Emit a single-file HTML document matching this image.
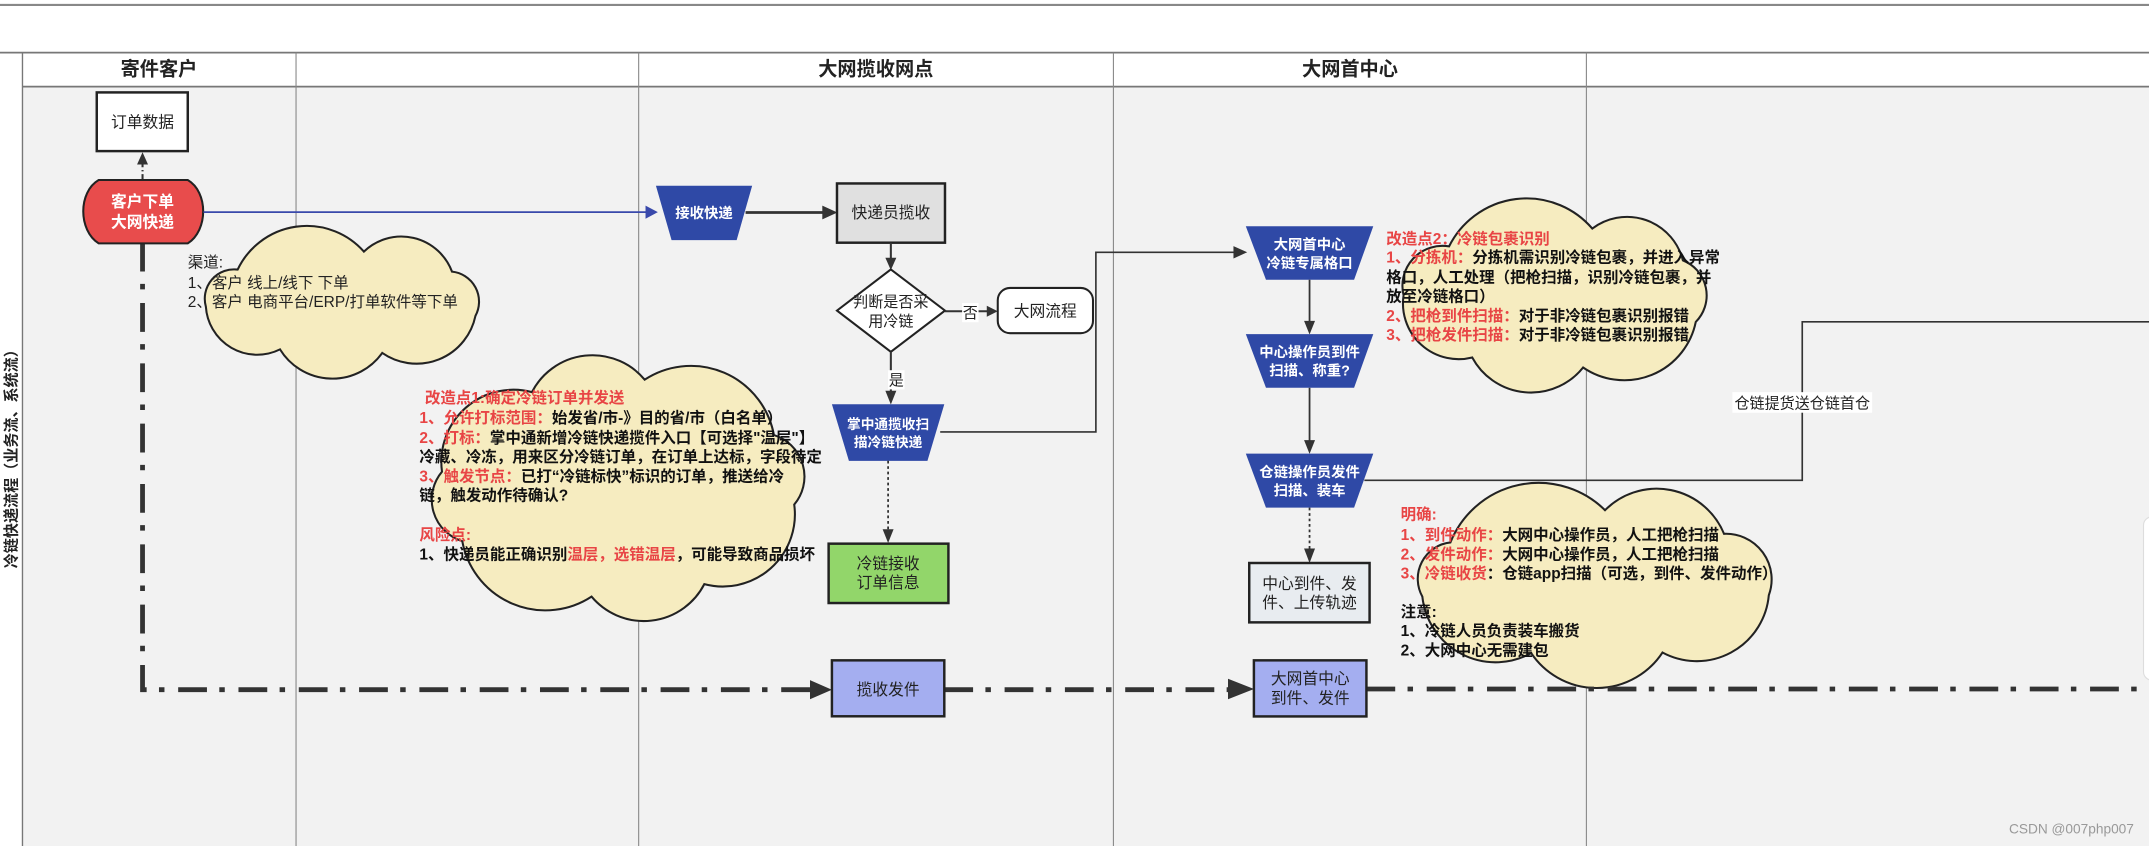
<!DOCTYPE html>
<html><head><meta charset="utf-8">
<style>
html,body{margin:0;padding:0;background:#fff;}
svg{display:block;}
text{font-family:"Liberation Sans","Noto Sans CJK SC",sans-serif;}
.h{font-size:14px;font-weight:bold;fill:#222;}
.w{font-size:10.5px;font-weight:bold;fill:#fff;}
.n{font-size:11.5px;fill:#222;}
.c{font-size:11.3px;font-weight:bold;fill:#111;}
.r{fill:#e84545;}
</style></head><body>
<svg width="2149" height="846" viewBox="0 0 1568 617" preserveAspectRatio="none" xmlns="http://www.w3.org/2000/svg">
<rect x="0" y="0" width="1568" height="617" fill="#fff"/>
<line x1="0" y1="3.6" x2="1568" y2="3.6" stroke="#888" stroke-width="1.5"/>
<rect x="16.4" y="63" width="1552" height="554" fill="#f2f2f2"/>
<line x1="0" y1="38.4" x2="1568" y2="38.4" stroke="#777" stroke-width="1.3"/>
<line x1="16.4" y1="63.2" x2="1568" y2="63.2" stroke="#777" stroke-width="1.3"/>
<line x1="16.4" y1="38.4" x2="16.4" y2="617" stroke="#777" stroke-width="1"/>
<line x1="216" y1="38.4" x2="216" y2="617" stroke="#888" stroke-width="0.8"/>
<line x1="466" y1="38.4" x2="466" y2="617" stroke="#888" stroke-width="0.8"/>
<line x1="812.4" y1="38.4" x2="812.4" y2="617" stroke="#888" stroke-width="0.8"/>
<line x1="1157.5" y1="38.4" x2="1157.5" y2="617" stroke="#888" stroke-width="0.8"/>
<text class="h" x="116" y="55" text-anchor="middle">寄件客户</text>
<text class="h" x="639" y="55" text-anchor="middle">大网揽收网点</text>
<text class="h" x="985" y="55" text-anchor="middle">大网首中心</text>
<text x="12" y="332" transform="rotate(-90 12 332)" text-anchor="middle" style="font-size:11px;font-weight:bold;fill:#222">冷链快递流程（业务流、系统流）</text>

<path id="cl1" fill="#f6ecc0" stroke="#222" stroke-width="1.5"/>
<path id="cl2" fill="#f6ecc0" stroke="#222" stroke-width="1.5"/>
<path id="cl3" fill="#f6ecc0" stroke="#222" stroke-width="1.5"/>
<path id="cl4" fill="#f6ecc0" stroke="#222" stroke-width="1.5"/>

<path d="M104,177 L104,503 L592,503" fill="none" stroke="#333" stroke-width="3.5" stroke-dasharray="21 9 4 10"/>
<polygon points="591,496 607,503 591,510" fill="#333"/>
<path d="M689,503 L897,503" fill="none" stroke="#333" stroke-width="3.5" stroke-dasharray="21 9 4 10"/>
<polygon points="896,495 915,502.5 896,510" fill="#333"/>
<path d="M997,502.5 L1568,502.5" fill="none" stroke="#333" stroke-width="3.5" stroke-dasharray="21 9 4 10"/>

<line x1="104" y1="131" x2="104" y2="118" stroke="#333" stroke-width="1.5" stroke-dasharray="4 2 1 2"/>
<polygon points="100,120 104,111 108,120" fill="#333"/>
<rect x="70.6" y="67.4" width="66.4" height="42.8" fill="#fff" stroke="#222" stroke-width="1.8"/>
<text class="n" x="104" y="93" text-anchor="middle">订单数据</text>
<path d="M72,131.3 L137,131.3 C152,140 152,168 137,177.5 L72,177.5 C57,168 57,140 72,131.3 Z" fill="#e84c4c" stroke="#222" stroke-width="1.5"/>
<text class="w" x="104" y="151" text-anchor="middle" style="font-size:11.5px">客户下单</text>
<text class="w" x="104" y="166" text-anchor="middle" style="font-size:11.5px">大网快递</text>
<line x1="148.5" y1="154.7" x2="472" y2="154.7" stroke="#3949ab" stroke-width="1.3"/>
<polygon points="471,150 480,154.7 471,159.5" fill="#3949ab"/>

<polygon points="478.6,135.5 548.8,135.5 537.5,175.1 490,175.1" fill="#2f49a6"/>
<text class="w" x="513.7" y="159" text-anchor="middle">接收快递</text>
<line x1="544" y1="155" x2="602" y2="155" stroke="#333" stroke-width="2"/>
<polygon points="600,150 611,155 600,160" fill="#333"/>
<rect x="610.7" y="133.8" width="78.8" height="43.2" fill="#e0e0e0" stroke="#222" stroke-width="1.8"/>
<text class="n" x="650" y="159" text-anchor="middle">快递员揽收</text>
<line x1="650" y1="177" x2="650" y2="190" stroke="#333" stroke-width="1.5"/>
<polygon points="646,188 650,197 654,188" fill="#333"/>
<polygon points="650,196.5 689.5,226.5 650,256.6 610.7,226.5" fill="#fff" stroke="#222" stroke-width="1.5"/>
<text class="n" x="650" y="224" text-anchor="middle" style="font-size:11px">判断是否采</text>
<text class="n" x="650" y="238" text-anchor="middle" style="font-size:11px">用冷链</text>
<line x1="689.5" y1="227" x2="722" y2="227" stroke="#333" stroke-width="1.5"/>
<polygon points="720,223 728,227 720,231" fill="#333"/>
<rect x="702" y="221" width="12" height="14" fill="#fff"/>
<text class="n" x="708" y="232" text-anchor="middle" style="font-size:11px">否</text>
<rect x="728" y="210" width="69.5" height="33" rx="9" fill="#fff" stroke="#222" stroke-width="1.5"/>
<text class="n" x="762.7" y="231" text-anchor="middle">大网流程</text>
<line x1="650" y1="256.6" x2="650" y2="287" stroke="#333" stroke-width="1.5"/>
<polygon points="646,285 650,295 654,285" fill="#333"/>
<rect x="648" y="270" width="12" height="14" fill="#fff"/>
<text class="n" x="654" y="281" text-anchor="middle" style="font-size:11px">是</text>

<polygon points="607,294.8 689,294.8 676.7,336.1 619.4,336.1" fill="#2f49a6"/>
<text class="w" x="648" y="313" text-anchor="middle" style="font-size:10px">掌中通揽收扫</text>
<text class="w" x="648" y="326" text-anchor="middle" style="font-size:10px">描冷链快递</text>
<polyline points="686,315 799.6,315 799.6,184 903,184" fill="none" stroke="#333" stroke-width="1.2"/>
<polygon points="900,179.5 910,184 900,188.5" fill="#333"/>
<line x1="648" y1="336" x2="648" y2="388" stroke="#333" stroke-width="1.3" stroke-dasharray="2 2"/>
<polygon points="644,386 648,396 652,386" fill="#333"/>
<rect x="604.6" y="396.5" width="87.4" height="43.3" fill="#92d66a" stroke="#222" stroke-width="1.8"/>
<text class="n" x="648" y="415" text-anchor="middle">冷链接收</text>
<text class="n" x="648" y="429" text-anchor="middle">订单信息</text>
<rect x="607" y="481.6" width="82" height="40.8" fill="#a4aef0" stroke="#222" stroke-width="1.8"/>
<text class="n" x="648" y="507" text-anchor="middle">揽收发件</text>

<polygon points="909,165 1002,165 988,204 923.7,204" fill="#2f49a6"/>
<text class="w" x="955.5" y="182" text-anchor="middle">大网首中心</text>
<text class="w" x="955.5" y="195.5" text-anchor="middle">冷链专属格口</text>
<line x1="955.5" y1="204" x2="955.5" y2="236" stroke="#333" stroke-width="1.3"/>
<polygon points="951.5,234 955.5,244 959.5,234" fill="#333"/>
<polygon points="909,243.7 1002,243.7 988,282.8 923.7,282.8" fill="#2f49a6"/>
<text class="w" x="955.5" y="260.5" text-anchor="middle">中心操作员到件</text>
<text class="w" x="955.5" y="274" text-anchor="middle">扫描、称重?</text>
<line x1="955.5" y1="282.8" x2="955.5" y2="323" stroke="#333" stroke-width="1.3"/>
<polygon points="951.5,321 955.5,331 959.5,321" fill="#333"/>
<polyline points="1568,234.7 1315,234.7 1315,350.3 995.5,350.3" fill="none" stroke="#333" stroke-width="1.2"/>
<rect x="1264" y="286" width="102" height="15" fill="#fff"/>
<text class="n" x="1315" y="298" text-anchor="middle" style="font-size:11px">仓链提货送仓链首仓</text>
<polygon points="909,330.8 1002,330.8 988,370.2 923.7,370.2" fill="#2f49a6"/>
<text class="w" x="955.5" y="348" text-anchor="middle">仓链操作员发件</text>
<text class="w" x="955.5" y="361.5" text-anchor="middle">扫描、装车</text>
<line x1="955.5" y1="370.2" x2="955.5" y2="402" stroke="#333" stroke-width="1.3" stroke-dasharray="2 2"/>
<polygon points="951.5,400 955.5,410.6 959.5,400" fill="#333"/>
<rect x="911.5" y="410.6" width="87.8" height="43.3" fill="#e8ecf0" stroke="#222" stroke-width="1.8"/>
<text class="n" x="955.5" y="429.5" text-anchor="middle">中心到件、发</text>
<text class="n" x="955.5" y="443.5" text-anchor="middle">件、上传轨迹</text>
<rect x="914.9" y="481.6" width="82.1" height="40.9" fill="#a4aef0" stroke="#222" stroke-width="1.8"/>
<text class="n" x="956" y="499" text-anchor="middle">大网首中心</text>
<text class="n" x="956" y="513" text-anchor="middle">到件、发件</text>

<rect x="1564" y="377" width="20" height="119" rx="6" fill="#fff" stroke="#ddd" stroke-width="0.8"/>

<g>
<text x="137" y="195" class="n" style="font-size:11.3px">渠道:</text>
<text x="137" y="210" class="n" style="font-size:11.3px">1、客户 线上/线下 下单</text>
<text x="137" y="224" class="n" style="font-size:11.3px">2、客户 电商平台/ERP/打单软件等下单</text>
</g>
<g class="c">
<text x="310" y="294"><tspan class="r">改造点1:确定冷链订单并发送</tspan></text>
<text x="306" y="308.5"><tspan class="r">1、允许打标范围：</tspan>始发省/市-》目的省/市（白名单）</text>
<text x="306" y="323"><tspan class="r">2、打标：</tspan>掌中通新增冷链快递揽件入口【可选择"温层"】</text>
<text x="306" y="337">冷藏、冷冻，用来区分冷链订单，在订单上达标，字段待定</text>
<text x="306" y="351"><tspan class="r">3、触发节点：</tspan>已打“冷链标快”标识的订单，推送给冷</text>
<text x="306" y="365">链，触发动作待确认?</text>
<text x="306" y="394" class="c r">风险点:</text>
<text x="306" y="408">1、快递员能正确识别<tspan class="r">温层，选错温层</tspan>，可能导致商品损坏</text>
</g>
<g class="c">
<text x="1011.5" y="178"><tspan class="r">改造点2：冷链包裹识别</tspan></text>
<text x="1011.5" y="191.5"><tspan class="r">1、分拣机：</tspan>分拣机需识别冷链包裹，并进入异常</text>
<text x="1011.5" y="206">格口，人工处理（把枪扫描，识别冷链包裹，并</text>
<text x="1011.5" y="220">放至冷链格口）</text>
<text x="1011.5" y="234"><tspan class="r">2、把枪到件扫描：</tspan>对于非冷链包裹识别报错</text>
<text x="1011.5" y="248"><tspan class="r">3、把枪发件扫描：</tspan>对于非冷链包裹识别报错</text>
</g>
<g class="c">
<text x="1022" y="379" class="c r">明确:</text>
<text x="1022" y="394"><tspan class="r">1、到件动作：</tspan>大网中心操作员，人工把枪扫描</text>
<text x="1022" y="408"><tspan class="r">2、发件动作：</tspan>大网中心操作员，人工把枪扫描</text>
<text x="1022" y="422"><tspan class="r">3、冷链收货</tspan>：仓链app扫描（可选，到件、发件动作）</text>
<text x="1022" y="450">注意:</text>
<text x="1022" y="464">1、冷链人员负责装车搬货</text>
<text x="1022" y="478">2、大网中心无需建包</text>
</g>
<text x="1557" y="608" text-anchor="end" style="font-size:10px;fill:#999">CSDN @007php007</text>
</svg>
<script>
function cloud(id,cx,cy,rx,ry,n,off){
  var pts=[];
  for(var i=0;i<n;i++){
    var a=off+i*2*Math.PI/n + (i%2?0.08:-0.05);
    pts.push([cx+rx*Math.cos(a),cy+ry*Math.sin(a)]);
  }
  var d="M"+pts[0][0].toFixed(1)+","+pts[0][1].toFixed(1);
  for(var i=0;i<n;i++){
    var p=pts[i],q=pts[(i+1)%n];
    var ch=Math.hypot(q[0]-p[0],q[1]-p[1]);
    var r=(ch*0.6).toFixed(1);
    d+=" A"+r+","+r+" 0 0 1 "+q[0].toFixed(1)+","+q[1].toFixed(1);
  }
  document.getElementById(id).setAttribute("d",d+" Z");
}
cloud("cl1",250,221,100,38,7,0.3);
cloud("cl2",451,356,130,80,8,0.2);
cloud("cl3",1134,217,110,52,7,0.4);
cloud("cl4",1164,426,128,54,7,0.2);
</script>
</body></html>
